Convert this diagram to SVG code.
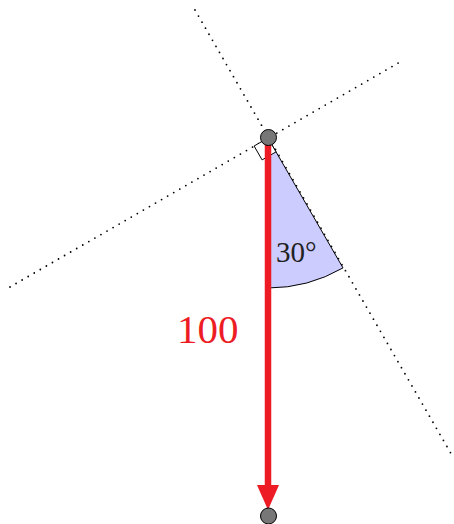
<svg xmlns="http://www.w3.org/2000/svg" width="454" height="524" viewBox="0 0 454 524">
<style>
.dot{stroke:#000;stroke-width:1.8;stroke-dasharray:0 7;stroke-linecap:round;fill:none}
.pt{fill:#777;stroke:#000;stroke-width:1}
.lbl{font-family:"Liberation Serif","DejaVu Serif",serif}
</style>
<g id="guides">
<line class="dot" x1="195" y1="10" x2="453" y2="457"/>
<line class="dot" x1="10" y1="287" x2="400" y2="62"/>
</g>
<g id="angle">
<path d="M268,138 L268,288 A150,150 0 0 0 343,267.9 Z" fill="#ccccff" stroke="#000" stroke-width="1"/>
<path d="M268,138 L276,151.9 L262.1,159.9 L254.1,146 Z" fill="#fff" stroke="#000" stroke-width="1"/>
<text class="lbl" x="276" y="262" font-size="29" fill="#222">30°</text>
</g>
<g id="connectors">
<line x1="268" y1="138" x2="268" y2="485" stroke="#ed1c24" stroke-width="6.5"/>
<path d="M257,485 L279,485 L268,510 Z" fill="#ed1c24"/>
<text class="lbl" x="177" y="343" font-size="41" fill="#ed1c24">100</text>
</g>
<g id="p1"><circle class="pt" cx="268.5" cy="137.5" r="8"/></g>
<g id="p2"><circle class="pt" cx="268.5" cy="516" r="8"/></g>
</svg>
